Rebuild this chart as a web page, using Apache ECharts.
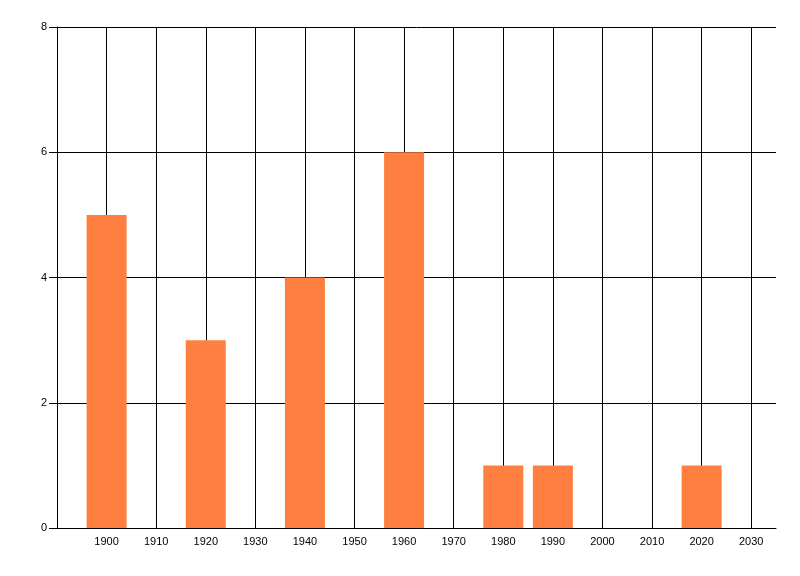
<!DOCTYPE html>
<html><head><meta charset="utf-8">
<script src="https://cdn.jsdelivr.net/npm/echarts@6/dist/echarts.min.js"></script>
<style>html,body{margin:0;padding:0;background:#fff}#c{width:800px;height:576px}</style>
</head><body><div id="c"></div>
<script>
const years = [1900, 1920, 1940, 1960, 1980, 1990, 2020];
const counts = [5, 3, 4, 6, 1, 1, 1];
const yTicks = [0, 2, 4, 6, 8];

const chart = echarts.init(document.getElementById('c'), null, {renderer: 'canvas'});
chart.setOption({
  animation: false,
  grid: {left: 57, right: 24, top: 27, bottom: 48, containLabel: false},
  xAxis: {
    type: 'value', min: 1890, max: 2035, interval: 10,
    axisLine: {show: true, lineStyle: {color: '#000', width: 1}},
    axisTick: {show: false},
    axisLabel: {color: '#000', fontFamily: 'Liberation Sans', fontSize: 11, margin: 8,
      showMinLabel: false, showMaxLabel: false, formatter: v => String(v)},
    splitLine: {show: true, showMinLine: false, showMaxLine: false, lineStyle: {color: '#000', width: 1}}
  },
  yAxis: {
    type: 'value', min: 0, max: 8, interval: 2,
    axisLine: {show: true, lineStyle: {color: '#000', width: 1}},
    axisTick: {show: true, length: 8, lineStyle: {color: '#000'}},
    axisLabel: {color: '#000', fontFamily: 'Liberation Sans', fontSize: 11, margin: 10},
    splitLine: {show: true, lineStyle: {color: '#000', width: 1}}
  },
  series: [{
    type: 'bar',
    data: years.map((y, i) => [y, counts[i]]),
    barWidth: 40,
    itemStyle: {color: '#FF7F40'}
  }]
});
</script></body></html>
